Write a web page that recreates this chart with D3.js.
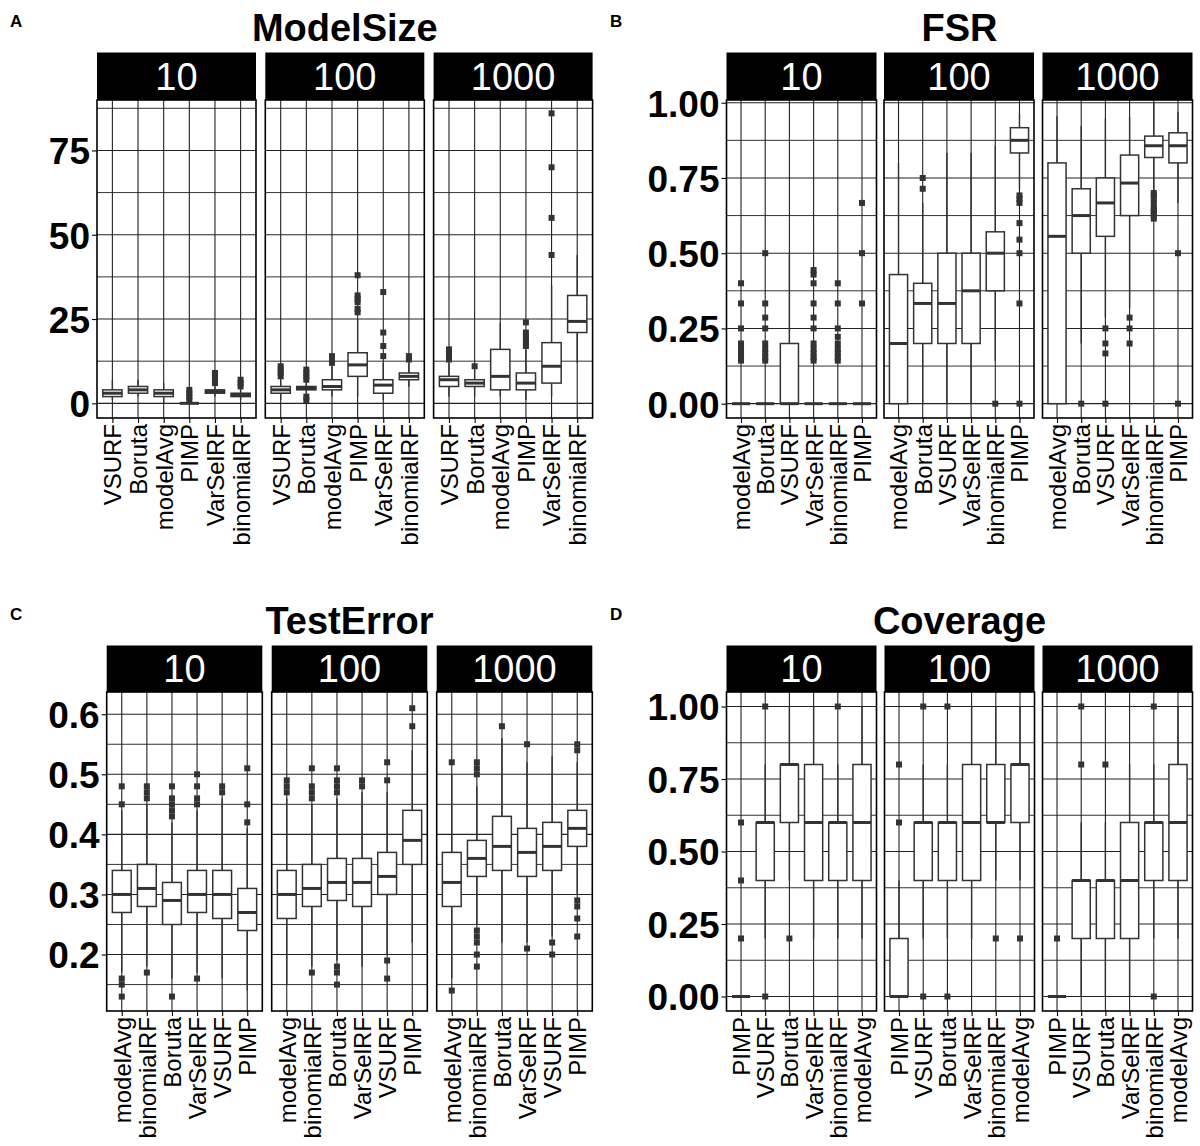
<!DOCTYPE html>
<html>
<head>
<meta charset="utf-8">
<script src="https://cdn.jsdelivr.net/npm/d3@7"></script>
<style>
  body { margin: 0; background: #fff; }
  svg { display: block; }
  text { font-family: "Liberation Sans", Arial, Helvetica, sans-serif; }
</style>
</head>
<body>
<svg id="chart" width="1200" height="1146"></svg>
<script>
const facets = ["10", "100", "1000"];

// each box: [lower whisker, q1, median, q3, upper whisker]; one list per facet (10, 100, 1000)
const sizeMethods = ["VSURF", "Boruta", "modelAvg", "PIMP", "VarSelRF", "binomialRF"];
const sizeBoxes = [
  [[1,2,3,4,7], [2,3,4,5,7], [0,2,3,4,6], [0,0,0,0,0], [2,3,3.5,4,5], [1,2,2.5,3,4]],
  [[1,3,4,5,7], [3,4,4.4,5,6], [2,4,5,7,11], [2,8,11.4,15,25], [1,3,5.4,7,12], [5,7,8,9,12]],
  [[2,5,7,8,12], [2,5,6,7,10], [2,4,8,16,24], [1,4,6,9,16], [2,6,11,18,35], [12,21,24.3,32,44]]
];
const sizeOutliers = [
  [[], [], [], [1,2,3,4], [6,7,8,9], [5,6,7]],
  [[8,9,10,11], [1,2,7,8,9,10], [12,13,14], [27,28,30,31,32,38], [14,17,21,33], [13,14]],
  [[13,14,15,16], [11], [], [17,18,19,20,21,24], [44,55,70,86], []]
];

const fsrMethods = ["modelAvg", "Boruta", "VSURF", "VarSelRF", "binomialRF", "PIMP"];
const fsrBoxes = [
  [[0,0,0,0,0], [0,0,0,0,0], [0,0,0,0.2,0.5], [0,0,0,0,0], [0,0,0,0,0], [0,0,0,0,0]],
  [[0,0,0.2,0.429,0.8], [0,0.2,0.333,0.4,0.667], [0,0.2,0.333,0.5,0.833], [0,0.2,0.375,0.5,0.833], [0.143,0.375,0.5,0.571,0.857], [0.714,0.833,0.875,0.917,0.964]],
  [[0,0,0.556,0.8,0.955], [0.2,0.5,0.625,0.714,0.923], [0.286,0.556,0.667,0.75,0.947], [0.318,0.625,0.733,0.826,0.952], [0.706,0.818,0.857,0.889,1], [0.667,0.8,0.857,0.9,0.97]]
];
const fsrOutliers = [
  [[0.143,0.154,0.167,0.182,0.2,0.25,0.333,0.4], [0.143,0.154,0.167,0.182,0.2,0.25,0.286,0.333,0.5], [], [0.143,0.154,0.167,0.182,0.2,0.25,0.286,0.333,0.4,0.429,0.444], [0.143,0.154,0.167,0.182,0.2,0.222,0.25,0.333,0.4], [0.333,0.5,0.667]],
  [[], [0.714,0.75], [], [], [0], [0,0.333,0.5,0.545,0.6,0.667,0.68,0.692]],
  [[], [0], [0,0.167,0.2,0.25], [0.2,0.25,0.286], [0.615,0.625,0.636,0.643,0.65,0.667,0.68,0.692,0.7], [0,0.5]]
];

const errMethods = ["modelAvg", "binomialRF", "Boruta", "VarSelRF", "VSURF", "PIMP"];
const errBoxes = [
  [[0.17,0.27,0.30,0.34,0.44], [0.18,0.28,0.31,0.35,0.45], [0.16,0.25,0.29,0.32,0.42], [0.17,0.27,0.30,0.34,0.44], [0.16,0.26,0.30,0.34,0.46], [0.14,0.24,0.27,0.31,0.41]],
  [[0.15,0.26,0.30,0.34,0.46], [0.18,0.28,0.31,0.35,0.45], [0.19,0.29,0.32,0.36,0.46], [0.18,0.28,0.32,0.36,0.47], [0.20,0.30,0.33,0.37,0.47], [0.22,0.35,0.39,0.44,0.54]],
  [[0.16,0.28,0.32,0.37,0.50], [0.25,0.33,0.36,0.39,0.48], [0.22,0.34,0.38,0.43,0.56], [0.22,0.33,0.37,0.41,0.52], [0.23,0.34,0.38,0.42,0.53], [0.30,0.38,0.41,0.44,0.52]]
];
const errOutliers = [
  [[0.13,0.15,0.16,0.45,0.48], [0.17,0.46,0.47,0.48], [0.13,0.43,0.44,0.45,0.46,0.48], [0.16,0.45,0.46,0.48,0.50], [0.47,0.48], [0.42,0.45,0.51]],
  [[0.47,0.48,0.49], [0.17,0.46,0.47,0.48,0.51], [0.15,0.17,0.18,0.47,0.48,0.49,0.51], [0.48,0.49], [0.16,0.19,0.49,0.52], [0.58,0.61]],
  [[0.14,0.52], [0.18,0.20,0.22,0.23,0.24,0.50,0.51,0.52], [0.58], [0.21,0.55], [0.20,0.22], [0.23,0.26,0.28,0.29,0.54,0.55]]
];

const covMethods = ["PIMP", "VSURF", "Boruta", "VarSelRF", "binomialRF", "modelAvg"];
const covBoxes = [
  [[0,0,0,0,0], [0.2,0.4,0.6,0.6,0.8], [0.4,0.6,0.8,0.8,1], [0.2,0.4,0.6,0.8,1], [0.2,0.4,0.6,0.6,0.8], [0.2,0.4,0.6,0.8,1]],
  [[0,0,0,0.2,0.4], [0.2,0.4,0.6,0.6,0.8], [0.2,0.4,0.6,0.6,0.8], [0.2,0.4,0.6,0.8,1], [0.4,0.6,0.6,0.8,1], [0.4,0.6,0.8,0.8,1]],
  [[0,0,0,0,0], [0,0.2,0.4,0.4,0.6], [0,0.2,0.4,0.4,0.6], [0,0.2,0.4,0.6,0.8], [0.2,0.4,0.6,0.6,0.8], [0.2,0.4,0.6,0.8,1]]
];
const covOutliers = [
  [[0.2,0.4,0.6], [0,1], [0.2], [], [1], []],
  [[0.6,0.8], [0,1], [0,1], [], [0.2], [0.2]],
  [[0.2], [0.8,1], [0.8], [], [0,1], []]
];

const svg = d3.select("#chart");
const boxColor = "#333";
const fontFamily = '"Liberation Sans", Arial, Helvetica, sans-serif';

function drawPanel(p) {
  const g = svg.append("g");
  const y = d3.scaleLinear().domain(p.domain).range([p.bottom, p.top]);

  g.append("text")
    .attr("x", p.tagX).attr("y", p.tagY)
    .text(p.tag)
    .style("font-weight", "bold").style("font-size", "17px");

  g.append("text")
    .attr("x", (p.lefts[0] + p.lefts[2] + p.width) / 2)
    .attr("y", p.titleY)
    .attr("text-anchor", "middle")
    .text(p.title)
    .style("font-weight", "bold").style("font-size", "38px");

  facets.forEach((f, i) => {
    const left = p.lefts[i], right = left + p.width;
    const x = d3.scalePoint().domain(p.methods).range([left, right]).padding(0.6);
    const bw = x.step() * 0.75;
    const fg = g.append("g");

    // strip
    fg.append("rect")
      .attr("x", left).attr("y", p.stripTop)
      .attr("width", p.width).attr("height", p.top - p.stripTop)
      .attr("fill", "#000");
    fg.append("text")
      .attr("x", (left + right) / 2).attr("y", (p.stripTop + p.top) / 2)
      .attr("dy", "0.36em").attr("text-anchor", "middle")
      .attr("fill", "#fff").style("font-size", "38px")
      .text(f);

    // grid
    fg.selectAll(".minor").data(p.minor).join("line")
      .attr("x1", left).attr("x2", right)
      .attr("y1", d => y(d)).attr("y2", d => y(d))
      .attr("stroke", "#333").attr("stroke-width", 1);
    fg.selectAll(".major").data(p.ticks).join("line")
      .attr("x1", left).attr("x2", right)
      .attr("y1", d => y(d)).attr("y2", d => y(d))
      .attr("stroke", "#222").attr("stroke-width", 1.1);
    fg.selectAll(".vgrid").data(p.methods).join("line")
      .attr("x1", d => x(d)).attr("x2", d => x(d))
      .attr("y1", p.top).attr("y2", p.bottom)
      .attr("stroke", "#222").attr("stroke-width", 1.1);

    // boxes
    const boxes = p.boxes[i], outs = p.outliers[i];
    p.methods.forEach((m, j) => {
      const [lo, q1, med, q3, hi] = boxes[j];
      const cx = x(m);
      fg.append("line")
        .attr("x1", cx).attr("x2", cx).attr("y1", y(hi)).attr("y2", y(q3))
        .attr("stroke", boxColor).attr("stroke-width", 1.4);
      fg.append("line")
        .attr("x1", cx).attr("x2", cx).attr("y1", y(q1)).attr("y2", y(lo))
        .attr("stroke", boxColor).attr("stroke-width", 1.4);
      fg.append("rect")
        .attr("x", cx - bw / 2).attr("y", y(q3))
        .attr("width", bw).attr("height", Math.max(0, y(q1) - y(q3)))
        .attr("fill", "#fff").attr("stroke", boxColor).attr("stroke-width", 1.5);
      fg.append("line")
        .attr("x1", cx - bw / 2).attr("x2", cx + bw / 2)
        .attr("y1", y(med)).attr("y2", y(med))
        .attr("stroke", boxColor).attr("stroke-width", 3);
      fg.selectAll(null).data(outs[j]).join("rect")
        .attr("x", cx - 3).attr("y", d => y(d) - 3)
        .attr("width", 6).attr("height", 6)
        .attr("fill", boxColor);
    });

    // panel border
    fg.append("rect")
      .attr("x", left).attr("y", p.top)
      .attr("width", p.width).attr("height", p.bottom - p.top)
      .attr("fill", "none").attr("stroke", "#000").attr("stroke-width", 1.6);

    // x axis
    const ax = fg.append("g")
      .attr("transform", `translate(0,${p.bottom})`)
      .call(d3.axisBottom(x).tickSize(5).tickSizeOuter(0));
    ax.select(".domain").remove();
    ax.selectAll(".tick line").attr("stroke", "#000").attr("stroke-width", 1.1);
    ax.selectAll("text")
      .attr("transform", "rotate(-90)")
      .attr("text-anchor", "end")
      .attr("x", -6).attr("y", 0).attr("dy", "0.35em")
      .attr("fill", "#000")
      .style("font-size", "24px")
      .style("font-family", fontFamily);

    // y axis on first facet
    if (i === 0) {
      const ay = fg.append("g")
        .attr("transform", `translate(${left},0)`)
        .call(d3.axisLeft(y).tickValues(p.ticks).tickFormat(p.fmt).tickSize(5));
      ay.select(".domain").remove();
      ay.selectAll(".tick line").attr("stroke", "#000").attr("stroke-width", 1.1);
      ay.selectAll("text")
        .attr("x", -7).attr("dy", "0.36em")
        .attr("fill", "#000")
        .style("font-size", "37px").style("font-weight", "bold")
        .style("font-family", fontFamily);
    }
  });
}

drawPanel({
  tag: "A", tagX: 10, tagY: 27, title: "ModelSize", titleY: 41,
  methods: sizeMethods, boxes: sizeBoxes, outliers: sizeOutliers,
  lefts: [97, 265.3, 433.6], width: 159,
  stripTop: 52.5, top: 100, bottom: 418,
  domain: [-4.35, 89.96], ticks: [0, 25, 50, 75], minor: [12.5, 37.5, 62.5, 87.5],
  fmt: d3.format("d")
});

drawPanel({
  tag: "B", tagX: 610, tagY: 27, title: "FSR", titleY: 41,
  methods: fsrMethods, boxes: fsrBoxes, outliers: fsrOutliers,
  lefts: [726.5, 884, 1042.5], width: 150,
  stripTop: 52.5, top: 100, bottom: 418,
  domain: [-0.0476, 1.009], ticks: [0, 0.25, 0.5, 0.75, 1], minor: [0.125, 0.375, 0.625, 0.875],
  fmt: d3.format(".2f")
});

drawPanel({
  tag: "C", tagX: 10, tagY: 620, title: "TestError", titleY: 634,
  methods: errMethods, boxes: errBoxes, outliers: errOutliers,
  lefts: [106.7, 271.7, 436.7], width: 155.6,
  stripTop: 645.5, top: 692, bottom: 1011,
  domain: [0.106, 0.637], ticks: [0.2, 0.3, 0.4, 0.5, 0.6], minor: [0.15, 0.25, 0.35, 0.45, 0.55],
  fmt: d3.format(".1f")
});

drawPanel({
  tag: "D", tagX: 610, tagY: 620, title: "Coverage", titleY: 634,
  methods: covMethods, boxes: covBoxes, outliers: covOutliers,
  lefts: [726.5, 884.5, 1042.5], width: 150,
  stripTop: 645.5, top: 692, bottom: 1011,
  domain: [-0.05, 1.05], ticks: [0, 0.25, 0.5, 0.75, 1], minor: [0.125, 0.375, 0.625, 0.875],
  fmt: d3.format(".2f")
});
</script>
</body>
</html>
